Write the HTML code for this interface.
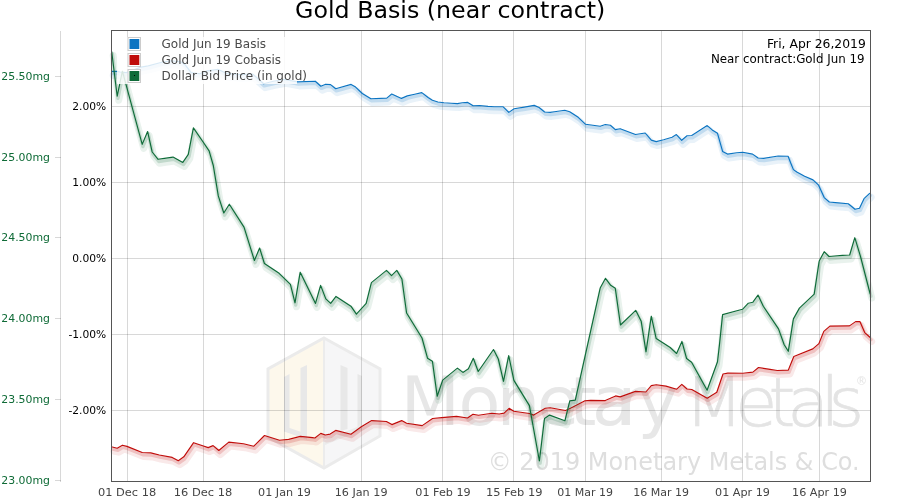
<!DOCTYPE html>
<html><head><meta charset="utf-8"><title>Gold Basis (near contract)</title>
<style>
html,body{margin:0;padding:0;background:#fff;width:900px;height:500px;overflow:hidden}
svg{display:block;will-change:transform}
text{font-family:"DejaVu Sans","Liberation Sans",sans-serif}
</style></head><body>
<svg width="900" height="500" viewBox="0 0 900 500">
<rect x="0" y="0" width="900" height="500" fill="#fff"/>
<g id="logo">
<polygon points="324,338 380,369 380,436 324,468" fill="#f6f6f7"/>
<polygon points="324,338 268,369 268,437 324,468" fill="#fdf8ec"/>
<polygon points="324,338 380,369 380,436 324,468 268,437 268,369" fill="none" stroke="#ebebeb" stroke-width="3"/>
<line x1="324" y1="340" x2="324" y2="466" stroke="#ececec" stroke-width="2"/>
<polygon points="284,377 289.5,374 289.5,428 284,431" fill="#e8e8e8"/>
<polygon points="300.5,368 307,365 307,439.5 300.5,437" fill="#e8e8e8"/>
<polygon points="284,426 307,434 307,439.5 284,431.5" fill="#e8e8e8"/>
<polygon points="340.5,365 347.5,368 347.5,429 340.5,431" fill="#e8e8e8"/>
<polygon points="357.5,374 362,376 362,430 357.5,431" fill="#e8e8e8"/>
<polygon points="325,440 362,425 362,430 325,445" fill="#ebebeb"/>
</g>
<text x="400.7 458.6 496.7 536.9 569.5 591.9 617.5 637.5" y="425.3" font-size="68.5" fill="#e7e7e7">Monetary</text>
<text x="684.5 735.3 768.6 787.3 820.6 828.5" y="425.6" font-size="68.5" font-weight="200" fill="#e4e4e4" stroke="#e4e4e4" stroke-width="0.7">Metals</text>
<text x="855.8" y="385" font-size="11.5" fill="#e4e4e4">®</text>
<text x="487.7" y="469.8" font-size="24.3" fill="#dedede" textLength="372" lengthAdjust="spacingAndGlyphs">© 2019 Monetary Metals &amp; Co.</text>
<g stroke="#000" stroke-opacity="0.153" stroke-width="1"><line x1="127.5" y1="30.5" x2="127.5" y2="481.5"/><line x1="203.5" y1="30.5" x2="203.5" y2="481.5"/><line x1="284.5" y1="30.5" x2="284.5" y2="481.5"/><line x1="361.5" y1="30.5" x2="361.5" y2="481.5"/><line x1="442.5" y1="30.5" x2="442.5" y2="481.5"/><line x1="513.5" y1="30.5" x2="513.5" y2="481.5"/><line x1="585.5" y1="30.5" x2="585.5" y2="481.5"/><line x1="661.5" y1="30.5" x2="661.5" y2="481.5"/><line x1="742.5" y1="30.5" x2="742.5" y2="481.5"/><line x1="819.5" y1="30.5" x2="819.5" y2="481.5"/><line x1="111.5" y1="106.5" x2="870.5" y2="106.5"/><line x1="111.5" y1="182.5" x2="870.5" y2="182.5"/><line x1="111.5" y1="258.5" x2="870.5" y2="258.5"/><line x1="111.5" y1="334.5" x2="870.5" y2="334.5"/><line x1="111.5" y1="410.5" x2="870.5" y2="410.5"/></g>
<line x1="60.5" y1="31" x2="60.5" y2="482" stroke="#000" stroke-opacity="0.153" stroke-width="1"/>
<g stroke="#000" stroke-opacity="0.153" stroke-width="1"><line x1="55" y1="76.5" x2="61" y2="76.5"/><line x1="55" y1="157.5" x2="61" y2="157.5"/><line x1="55" y1="237.5" x2="61" y2="237.5"/><line x1="55" y1="318.5" x2="61" y2="318.5"/><line x1="55" y1="399.5" x2="61" y2="399.5"/><line x1="55" y1="480.5" x2="61" y2="480.5"/></g>
<defs><clipPath id="pc"><rect x="112" y="31" width="758" height="450"/></clipPath></defs>
<g>
<g fill="none" stroke="#0b74c2" stroke-linejoin="round" stroke-linecap="round">
<path d="M111.7,71.4 L116.8,71.4 L120.2,72.0 L126.3,72.6 L141.0,67.1 L148.3,65.9 L161.8,62.2 L171.6,60.8 L181.3,62.0 L185.0,64.7 L191.1,72.6 L199.7,73.8 L207.3,70.9 L218.3,69.4 L225.7,73.1 L240.3,74.6 L252.6,74.0 L257.5,78.2 L263.6,83.7 L273.3,81.3 L284.4,79.4 L297.8,81.9 L315.3,81.2 L320.8,86.2 L325.7,84.2 L330.6,84.6 L335.7,88.7 L351.1,84.4 L355.6,87.1 L362.3,93.5 L370.9,98.7 L386.8,98.1 L391.7,94.0 L401.5,98.4 L407.3,95.9 L414.7,94.2 L421.8,92.6 L428.1,97.5 L432.4,100.3 L437.9,102.0 L444.0,102.8 L451.3,103.3 L457.5,103.6 L462.3,102.8 L467.8,102.4 L473.1,105.7 L479.5,105.5 L488.0,106.4 L494.1,106.7 L503.2,106.8 L508.8,112.4 L514.1,108.7 L524.4,107.1 L534.2,105.4 L539.1,107.5 L544.6,112.0 L550.1,112.4 L556.2,111.5 L564.8,110.3 L569.7,111.8 L578.2,117.3 L585.6,124.3 L592.9,125.2 L600.2,126.2 L605.3,124.5 L610.4,125.3 L615.3,129.6 L620.2,128.7 L635.5,134.5 L645.2,133.0 L651.3,140.1 L656.2,141.6 L663.6,139.7 L672.1,137.3 L676.4,134.6 L681.7,140.3 L687.0,135.7 L691.7,135.5 L707.2,125.6 L712.2,129.9 L717.5,133.3 L722.6,151.4 L727.5,154.1 L736.7,152.7 L742.8,152.3 L752.6,154.1 L758.1,158.0 L763.6,158.4 L778.2,156.0 L788.1,156.3 L790.6,162.8 L793.4,169.6 L796.8,172.0 L804.6,176.3 L813.0,179.9 L818.6,185.2 L824.2,197.6 L829.3,202.0 L838.2,202.9 L848.3,203.7 L855.0,209.3 L859.5,208.2 L864.0,198.7 L869.6,193.3" transform="translate(1.5,4)" stroke-width="7" stroke-opacity="0.09"/>
<path d="M111.7,71.4 L116.8,71.4 L120.2,72.0 L126.3,72.6 L141.0,67.1 L148.3,65.9 L161.8,62.2 L171.6,60.8 L181.3,62.0 L185.0,64.7 L191.1,72.6 L199.7,73.8 L207.3,70.9 L218.3,69.4 L225.7,73.1 L240.3,74.6 L252.6,74.0 L257.5,78.2 L263.6,83.7 L273.3,81.3 L284.4,79.4 L297.8,81.9 L315.3,81.2 L320.8,86.2 L325.7,84.2 L330.6,84.6 L335.7,88.7 L351.1,84.4 L355.6,87.1 L362.3,93.5 L370.9,98.7 L386.8,98.1 L391.7,94.0 L401.5,98.4 L407.3,95.9 L414.7,94.2 L421.8,92.6 L428.1,97.5 L432.4,100.3 L437.9,102.0 L444.0,102.8 L451.3,103.3 L457.5,103.6 L462.3,102.8 L467.8,102.4 L473.1,105.7 L479.5,105.5 L488.0,106.4 L494.1,106.7 L503.2,106.8 L508.8,112.4 L514.1,108.7 L524.4,107.1 L534.2,105.4 L539.1,107.5 L544.6,112.0 L550.1,112.4 L556.2,111.5 L564.8,110.3 L569.7,111.8 L578.2,117.3 L585.6,124.3 L592.9,125.2 L600.2,126.2 L605.3,124.5 L610.4,125.3 L615.3,129.6 L620.2,128.7 L635.5,134.5 L645.2,133.0 L651.3,140.1 L656.2,141.6 L663.6,139.7 L672.1,137.3 L676.4,134.6 L681.7,140.3 L687.0,135.7 L691.7,135.5 L707.2,125.6 L712.2,129.9 L717.5,133.3 L722.6,151.4 L727.5,154.1 L736.7,152.7 L742.8,152.3 L752.6,154.1 L758.1,158.0 L763.6,158.4 L778.2,156.0 L788.1,156.3 L790.6,162.8 L793.4,169.6 L796.8,172.0 L804.6,176.3 L813.0,179.9 L818.6,185.2 L824.2,197.6 L829.3,202.0 L838.2,202.9 L848.3,203.7 L855.0,209.3 L859.5,208.2 L864.0,198.7 L869.6,193.3" transform="translate(0.7,2.2)" stroke-width="3.4" stroke-opacity="0.18"/>
</g>
<path d="M111.7,71.4 L116.8,71.4 L120.2,72.0 L126.3,72.6 L141.0,67.1 L148.3,65.9 L161.8,62.2 L171.6,60.8 L181.3,62.0 L185.0,64.7 L191.1,72.6 L199.7,73.8 L207.3,70.9 L218.3,69.4 L225.7,73.1 L240.3,74.6 L252.6,74.0 L257.5,78.2 L263.6,83.7 L273.3,81.3 L284.4,79.4 L297.8,81.9 L315.3,81.2 L320.8,86.2 L325.7,84.2 L330.6,84.6 L335.7,88.7 L351.1,84.4 L355.6,87.1 L362.3,93.5 L370.9,98.7 L386.8,98.1 L391.7,94.0 L401.5,98.4 L407.3,95.9 L414.7,94.2 L421.8,92.6 L428.1,97.5 L432.4,100.3 L437.9,102.0 L444.0,102.8 L451.3,103.3 L457.5,103.6 L462.3,102.8 L467.8,102.4 L473.1,105.7 L479.5,105.5 L488.0,106.4 L494.1,106.7 L503.2,106.8 L508.8,112.4 L514.1,108.7 L524.4,107.1 L534.2,105.4 L539.1,107.5 L544.6,112.0 L550.1,112.4 L556.2,111.5 L564.8,110.3 L569.7,111.8 L578.2,117.3 L585.6,124.3 L592.9,125.2 L600.2,126.2 L605.3,124.5 L610.4,125.3 L615.3,129.6 L620.2,128.7 L635.5,134.5 L645.2,133.0 L651.3,140.1 L656.2,141.6 L663.6,139.7 L672.1,137.3 L676.4,134.6 L681.7,140.3 L687.0,135.7 L691.7,135.5 L707.2,125.6 L712.2,129.9 L717.5,133.3 L722.6,151.4 L727.5,154.1 L736.7,152.7 L742.8,152.3 L752.6,154.1 L758.1,158.0 L763.6,158.4 L778.2,156.0 L788.1,156.3 L790.6,162.8 L793.4,169.6 L796.8,172.0 L804.6,176.3 L813.0,179.9 L818.6,185.2 L824.2,197.6 L829.3,202.0 L838.2,202.9 L848.3,203.7 L855.0,209.3 L859.5,208.2 L864.0,198.7 L869.6,193.3" fill="none" stroke="#0b74c2" stroke-width="1.15" stroke-linejoin="round" stroke-linecap="round"/>
<g fill="none" stroke="#c00c0a" stroke-linejoin="round" stroke-linecap="round">
<path d="M112.3,447.0 L117.2,448.2 L122.4,445.2 L127.0,446.4 L142.2,452.5 L150.8,452.9 L159.3,455.0 L172.2,457.4 L178.3,460.7 L183.8,456.8 L193.6,442.7 L203.4,446.0 L208.2,447.6 L213.1,445.6 L218.8,450.5 L228.8,442.1 L243.5,443.7 L253.8,446.2 L264.5,435.5 L279.5,440.3 L288.7,439.4 L300.3,436.4 L312.5,437.6 L314.9,438.0 L320.8,433.4 L325.3,435.0 L330.2,434.1 L335.7,430.4 L351.0,434.3 L361.3,426.8 L371.7,420.6 L386.4,421.5 L391.9,424.6 L401.7,420.6 L406.6,423.3 L410.0,423.7 L422.2,425.6 L432.6,418.5 L441.8,417.6 L456.5,416.4 L467.5,418.0 L473.0,414.3 L478.5,415.2 L491.9,413.3 L499.2,414.0 L504.1,413.1 L509.1,408.3 L513.8,411.2 L529.4,413.5 L533.7,415.1 L545.3,408.3 L550.2,407.8 L565.5,410.5 L571.0,408.0 L584.5,400.9 L590.6,400.4 L605.3,400.6 L615.6,395.9 L620.2,396.9 L635.5,391.4 L645.8,392.0 L651.3,385.6 L656.2,384.7 L666.0,386.1 L676.7,389.2 L681.8,384.4 L687.0,389.0 L691.8,389.5 L707.2,398.2 L716.8,392.3 L723.0,374.0 L727.8,373.1 L743.0,373.3 L752.9,372.1 L758.5,367.5 L770.0,369.4 L777.3,370.5 L788.3,370.1 L793.8,356.5 L812.8,348.9 L818.9,343.6 L823.8,331.4 L829.9,326.1 L849.5,325.9 L855.6,321.6 L859.9,321.6 L864.7,332.6 L870.2,337.5" transform="translate(1.5,4)" stroke-width="7" stroke-opacity="0.09"/>
<path d="M112.3,447.0 L117.2,448.2 L122.4,445.2 L127.0,446.4 L142.2,452.5 L150.8,452.9 L159.3,455.0 L172.2,457.4 L178.3,460.7 L183.8,456.8 L193.6,442.7 L203.4,446.0 L208.2,447.6 L213.1,445.6 L218.8,450.5 L228.8,442.1 L243.5,443.7 L253.8,446.2 L264.5,435.5 L279.5,440.3 L288.7,439.4 L300.3,436.4 L312.5,437.6 L314.9,438.0 L320.8,433.4 L325.3,435.0 L330.2,434.1 L335.7,430.4 L351.0,434.3 L361.3,426.8 L371.7,420.6 L386.4,421.5 L391.9,424.6 L401.7,420.6 L406.6,423.3 L410.0,423.7 L422.2,425.6 L432.6,418.5 L441.8,417.6 L456.5,416.4 L467.5,418.0 L473.0,414.3 L478.5,415.2 L491.9,413.3 L499.2,414.0 L504.1,413.1 L509.1,408.3 L513.8,411.2 L529.4,413.5 L533.7,415.1 L545.3,408.3 L550.2,407.8 L565.5,410.5 L571.0,408.0 L584.5,400.9 L590.6,400.4 L605.3,400.6 L615.6,395.9 L620.2,396.9 L635.5,391.4 L645.8,392.0 L651.3,385.6 L656.2,384.7 L666.0,386.1 L676.7,389.2 L681.8,384.4 L687.0,389.0 L691.8,389.5 L707.2,398.2 L716.8,392.3 L723.0,374.0 L727.8,373.1 L743.0,373.3 L752.9,372.1 L758.5,367.5 L770.0,369.4 L777.3,370.5 L788.3,370.1 L793.8,356.5 L812.8,348.9 L818.9,343.6 L823.8,331.4 L829.9,326.1 L849.5,325.9 L855.6,321.6 L859.9,321.6 L864.7,332.6 L870.2,337.5" transform="translate(0.7,2.2)" stroke-width="3.4" stroke-opacity="0.18"/>
</g>
<path d="M112.3,447.0 L117.2,448.2 L122.4,445.2 L127.0,446.4 L142.2,452.5 L150.8,452.9 L159.3,455.0 L172.2,457.4 L178.3,460.7 L183.8,456.8 L193.6,442.7 L203.4,446.0 L208.2,447.6 L213.1,445.6 L218.8,450.5 L228.8,442.1 L243.5,443.7 L253.8,446.2 L264.5,435.5 L279.5,440.3 L288.7,439.4 L300.3,436.4 L312.5,437.6 L314.9,438.0 L320.8,433.4 L325.3,435.0 L330.2,434.1 L335.7,430.4 L351.0,434.3 L361.3,426.8 L371.7,420.6 L386.4,421.5 L391.9,424.6 L401.7,420.6 L406.6,423.3 L410.0,423.7 L422.2,425.6 L432.6,418.5 L441.8,417.6 L456.5,416.4 L467.5,418.0 L473.0,414.3 L478.5,415.2 L491.9,413.3 L499.2,414.0 L504.1,413.1 L509.1,408.3 L513.8,411.2 L529.4,413.5 L533.7,415.1 L545.3,408.3 L550.2,407.8 L565.5,410.5 L571.0,408.0 L584.5,400.9 L590.6,400.4 L605.3,400.6 L615.6,395.9 L620.2,396.9 L635.5,391.4 L645.8,392.0 L651.3,385.6 L656.2,384.7 L666.0,386.1 L676.7,389.2 L681.8,384.4 L687.0,389.0 L691.8,389.5 L707.2,398.2 L716.8,392.3 L723.0,374.0 L727.8,373.1 L743.0,373.3 L752.9,372.1 L758.5,367.5 L770.0,369.4 L777.3,370.5 L788.3,370.1 L793.8,356.5 L812.8,348.9 L818.9,343.6 L823.8,331.4 L829.9,326.1 L849.5,325.9 L855.6,321.6 L859.9,321.6 L864.7,332.6 L870.2,337.5" fill="none" stroke="#c00c0a" stroke-width="1.15" stroke-linejoin="round" stroke-linecap="round"/>
<g fill="none" stroke="#0e6b38" stroke-linejoin="round" stroke-linecap="round">
<path d="M111.7,51.6 L117.2,96.2 L122.4,71.2 L142.2,144.4 L147.6,131.5 L152.2,152.0 L158.1,159.3 L164.4,158.4 L173.0,157.1 L182.8,162.4 L188.3,154.4 L193.4,127.9 L203.6,142.8 L209.1,150.8 L213.3,165.5 L218.3,195.9 L223.8,213.0 L229.3,204.2 L244.0,227.1 L254.4,260.5 L259.6,248.0 L264.4,263.5 L279.1,273.3 L290.4,284.4 L295.0,302.8 L300.2,272.2 L315.5,303.4 L320.6,285.4 L325.8,298.9 L330.7,303.4 L336.0,296.4 L350.9,306.2 L356.4,314.2 L366.2,303.4 L371.4,282.6 L386.5,270.4 L391.5,275.6 L396.8,270.4 L401.9,279.0 L406.6,313.0 L422.0,338.0 L427.5,358.2 L432.4,361.2 L437.2,396.2 L442.7,380.1 L457.4,368.1 L462.9,372.4 L468.4,368.7 L473.3,358.3 L478.2,371.5 L493.5,349.5 L498.3,359.0 L503.5,381.3 L508.7,355.6 L513.9,380.4 L529.4,405.6 L539.4,461.0 L544.5,418.5 L549.6,415.1 L564.9,420.8 L569.8,400.9 L575.3,400.1 L600.3,287.7 L605.5,278.3 L610.7,285.3 L615.3,288.3 L620.5,325.0 L635.7,310.3 L641.2,321.3 L646.0,351.8 L651.3,316.2 L656.2,338.6 L670.2,347.5 L676.6,353.5 L681.9,341.4 L686.6,358.5 L691.6,362.2 L707.1,390.2 L717.5,361.7 L719.5,344.4 L722.6,314.6 L742.5,309.3 L748.3,303.2 L752.9,302.2 L758.0,295.0 L763.3,306.3 L778.5,328.9 L784.2,344.8 L788.3,351.3 L793.4,318.9 L799.4,308.1 L814.2,294.1 L819.2,261.0 L824.2,251.7 L829.0,256.5 L842.5,255.4 L849.7,255.0 L854.8,237.7 L860.5,256.5 L870.2,294.0" transform="translate(1.5,4)" stroke-width="7" stroke-opacity="0.09"/>
<path d="M111.7,51.6 L117.2,96.2 L122.4,71.2 L142.2,144.4 L147.6,131.5 L152.2,152.0 L158.1,159.3 L164.4,158.4 L173.0,157.1 L182.8,162.4 L188.3,154.4 L193.4,127.9 L203.6,142.8 L209.1,150.8 L213.3,165.5 L218.3,195.9 L223.8,213.0 L229.3,204.2 L244.0,227.1 L254.4,260.5 L259.6,248.0 L264.4,263.5 L279.1,273.3 L290.4,284.4 L295.0,302.8 L300.2,272.2 L315.5,303.4 L320.6,285.4 L325.8,298.9 L330.7,303.4 L336.0,296.4 L350.9,306.2 L356.4,314.2 L366.2,303.4 L371.4,282.6 L386.5,270.4 L391.5,275.6 L396.8,270.4 L401.9,279.0 L406.6,313.0 L422.0,338.0 L427.5,358.2 L432.4,361.2 L437.2,396.2 L442.7,380.1 L457.4,368.1 L462.9,372.4 L468.4,368.7 L473.3,358.3 L478.2,371.5 L493.5,349.5 L498.3,359.0 L503.5,381.3 L508.7,355.6 L513.9,380.4 L529.4,405.6 L539.4,461.0 L544.5,418.5 L549.6,415.1 L564.9,420.8 L569.8,400.9 L575.3,400.1 L600.3,287.7 L605.5,278.3 L610.7,285.3 L615.3,288.3 L620.5,325.0 L635.7,310.3 L641.2,321.3 L646.0,351.8 L651.3,316.2 L656.2,338.6 L670.2,347.5 L676.6,353.5 L681.9,341.4 L686.6,358.5 L691.6,362.2 L707.1,390.2 L717.5,361.7 L719.5,344.4 L722.6,314.6 L742.5,309.3 L748.3,303.2 L752.9,302.2 L758.0,295.0 L763.3,306.3 L778.5,328.9 L784.2,344.8 L788.3,351.3 L793.4,318.9 L799.4,308.1 L814.2,294.1 L819.2,261.0 L824.2,251.7 L829.0,256.5 L842.5,255.4 L849.7,255.0 L854.8,237.7 L860.5,256.5 L870.2,294.0" transform="translate(0.7,2.2)" stroke-width="3.4" stroke-opacity="0.18"/>
</g>
<path d="M111.7,51.6 L117.2,96.2 L122.4,71.2 L142.2,144.4 L147.6,131.5 L152.2,152.0 L158.1,159.3 L164.4,158.4 L173.0,157.1 L182.8,162.4 L188.3,154.4 L193.4,127.9 L203.6,142.8 L209.1,150.8 L213.3,165.5 L218.3,195.9 L223.8,213.0 L229.3,204.2 L244.0,227.1 L254.4,260.5 L259.6,248.0 L264.4,263.5 L279.1,273.3 L290.4,284.4 L295.0,302.8 L300.2,272.2 L315.5,303.4 L320.6,285.4 L325.8,298.9 L330.7,303.4 L336.0,296.4 L350.9,306.2 L356.4,314.2 L366.2,303.4 L371.4,282.6 L386.5,270.4 L391.5,275.6 L396.8,270.4 L401.9,279.0 L406.6,313.0 L422.0,338.0 L427.5,358.2 L432.4,361.2 L437.2,396.2 L442.7,380.1 L457.4,368.1 L462.9,372.4 L468.4,368.7 L473.3,358.3 L478.2,371.5 L493.5,349.5 L498.3,359.0 L503.5,381.3 L508.7,355.6 L513.9,380.4 L529.4,405.6 L539.4,461.0 L544.5,418.5 L549.6,415.1 L564.9,420.8 L569.8,400.9 L575.3,400.1 L600.3,287.7 L605.5,278.3 L610.7,285.3 L615.3,288.3 L620.5,325.0 L635.7,310.3 L641.2,321.3 L646.0,351.8 L651.3,316.2 L656.2,338.6 L670.2,347.5 L676.6,353.5 L681.9,341.4 L686.6,358.5 L691.6,362.2 L707.1,390.2 L717.5,361.7 L719.5,344.4 L722.6,314.6 L742.5,309.3 L748.3,303.2 L752.9,302.2 L758.0,295.0 L763.3,306.3 L778.5,328.9 L784.2,344.8 L788.3,351.3 L793.4,318.9 L799.4,308.1 L814.2,294.1 L819.2,261.0 L824.2,251.7 L829.0,256.5 L842.5,255.4 L849.7,255.0 L854.8,237.7 L860.5,256.5 L870.2,294.0" fill="none" stroke="#0e6b38" stroke-width="1.15" stroke-linejoin="round" stroke-linecap="round"/>
</g>
<rect x="111.5" y="30.5" width="759.0" height="451.0" fill="none" stroke="#555" stroke-width="1"/>
<rect x="117" y="37" width="180" height="47" fill="#fff" fill-opacity="0.84"/>
<rect x="128" y="37.5" width="12.5" height="13" fill="#fff" stroke="#ccc" stroke-width="1"/>
<rect x="129.5" y="39" width="9.8" height="10" fill="#0b74c2"/>
<text x="161.5" y="48" font-size="12" fill="#4a4a4a">Gold Jun 19 Basis</text>
<rect x="128" y="53.5" width="12.5" height="13" fill="#fff" stroke="#ccc" stroke-width="1"/>
<rect x="129.5" y="55" width="9.8" height="10" fill="#c00c0a"/>
<text x="161.5" y="64" font-size="12" fill="#4a4a4a">Gold Jun 19 Cobasis</text>
<rect x="128" y="69.5" width="12.5" height="13" fill="#fff" stroke="#ccc" stroke-width="1"/>
<rect x="129.5" y="71" width="9.8" height="10" fill="#0e6b38"/>
<text x="161.5" y="80" font-size="12" fill="#4a4a4a">Dollar Bid Price (in gold)</text>
<rect x="134" y="75" width="1" height="1" fill="#000"/>
<g font-size="10.9" fill="#0f6b37" text-anchor="end"><text x="50" y="79.9">25.50mg</text><text x="50" y="160.9">25.00mg</text><text x="50" y="240.9">24.50mg</text><text x="50" y="321.9">24.00mg</text><text x="50" y="402.9">23.50mg</text><text x="50" y="483.9">23.00mg</text></g>
<g font-size="10.7" fill="#000" text-anchor="end"><text x="106.2" y="110.0">2.00%</text><text x="106.2" y="186.0">1.00%</text><text x="106.2" y="262.0">0.00%</text><text x="106.2" y="338.0">-1.00%</text><text x="106.2" y="414.0">-2.00%</text></g>
<g font-size="11.2" fill="#444" text-anchor="middle"><text x="127.05" y="495.8" textLength="58.3" lengthAdjust="spacingAndGlyphs">01 Dec 18</text><text x="203.05" y="495.8" textLength="58.5" lengthAdjust="spacingAndGlyphs">16 Dec 18</text><text x="284.5" y="495.8" textLength="52.84" lengthAdjust="spacingAndGlyphs">01 Jan 19</text><text x="361.1" y="495.8" textLength="52.84" lengthAdjust="spacingAndGlyphs">16 Jan 19</text><text x="443.0" y="495.8" textLength="55.5" lengthAdjust="spacingAndGlyphs">01 Feb 19</text><text x="514.2" y="495.8" textLength="56.6" lengthAdjust="spacingAndGlyphs">15 Feb 19</text><text x="585.1" y="495.8" textLength="55.9" lengthAdjust="spacingAndGlyphs">01 Mar 19</text><text x="661.2" y="495.8" textLength="55.9" lengthAdjust="spacingAndGlyphs">16 Mar 19</text><text x="742.5" y="495.8" textLength="54.95" lengthAdjust="spacingAndGlyphs">01 Apr 19</text><text x="819.5" y="495.8" textLength="54.95" lengthAdjust="spacingAndGlyphs">16 Apr 19</text></g>
<text x="450.2" y="18" font-size="23.72" fill="#000" text-anchor="middle">Gold Basis (near contract)</text>
<g font-size="12" fill="#000" text-anchor="end"><text x="865.8" y="47.8" textLength="98.9" lengthAdjust="spacingAndGlyphs">Fri, Apr 26,2019</text><text x="864.6" y="63" textLength="153.7" lengthAdjust="spacingAndGlyphs">Near contract:Gold Jun 19</text></g>
</svg></body></html>
